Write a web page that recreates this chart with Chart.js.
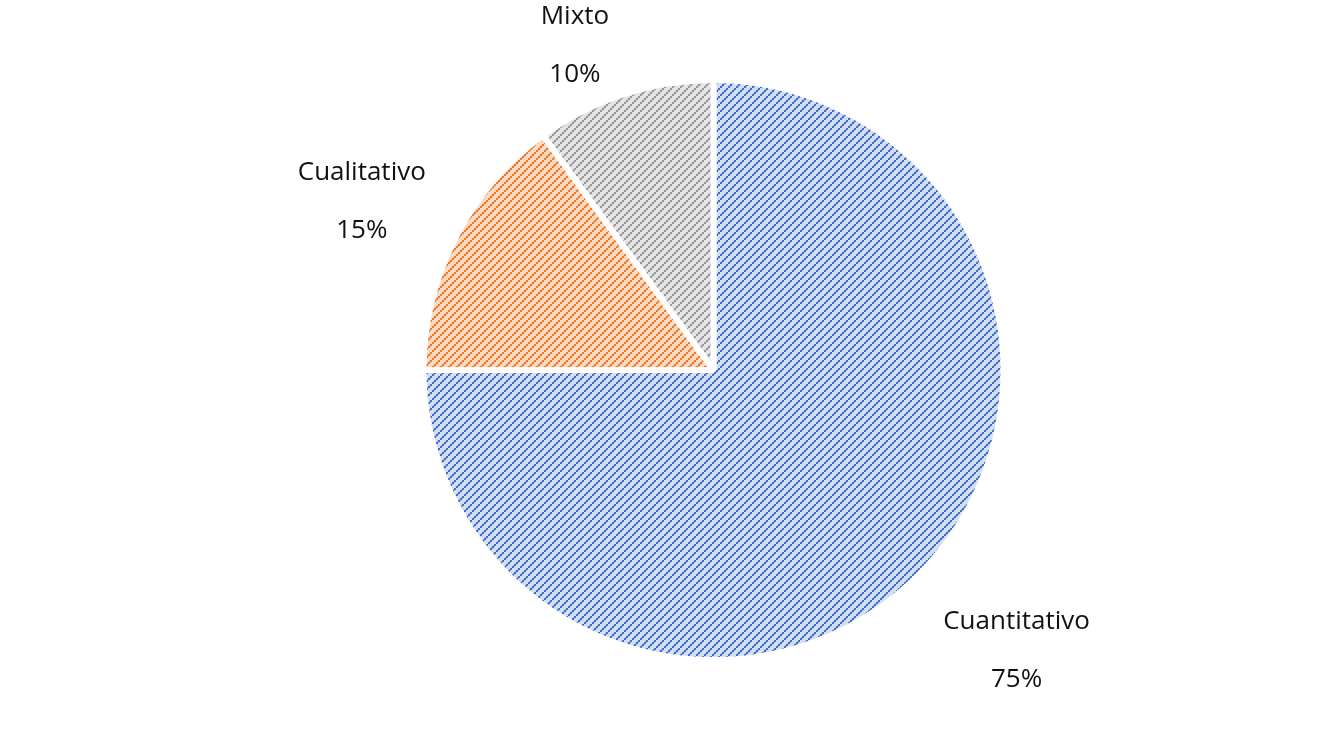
<!DOCTYPE html>
<html>
<head>
<meta charset="utf-8">
<script src="https://cdn.jsdelivr.net/npm/chart.js@4"></script>
<style>
  html, body { margin: 0; padding: 0; background: #fff; }
  #wrap { width: 1335px; height: 738px; position: relative; }
</style>
</head>
<body>
<div id="wrap"><canvas id="chart1"></canvas></div>
<script>
var categories = ['Cuantitativo', 'Cualitativo', 'Mixto'];
var values = [75, 15, 10];
var percentLabels = ['75%', '15%', '10%'];

// hatch colours: [background, mid, dots]
var hatchColors = [
  ['#d4def2', '#94aee0', '#3f6fc6'],
  ['#fbdac4', '#f4ac7c', '#ee7a2c'],
  ['#e4e4e4', '#c2c2c2', '#999999']
];

function makeHatch(bg, mid, fg) {
  var size = 8;
  var c = document.createElement('canvas');
  c.width = size; c.height = size;
  var g = c.getContext('2d');
  g.fillStyle = bg;
  g.fillRect(0, 0, size, size);
  // dotted diagonal, bottom-left to top-right
  for (var k = 0; k < 4; k++) {
    var x = k * 2, y = size - 2 - k * 2;
    g.fillStyle = mid;
    g.fillRect(x + 1, y - 1, 2, 2);
    g.fillStyle = fg;
    g.fillRect(x, y, 2, 2);
  }
  return g.createPattern(c, 'repeat');
}

var patterns = hatchColors.map(function(hc) { return makeHatch(hc[0], hc[1], hc[2]); });

// outside labels, two lines (name + percent)
var outsideLabels = {
  id: 'outsideLabels',
  afterDatasetsDraw: function(chart) {
    var ctx = chart.ctx;
    var meta = chart.getDatasetMeta(0);
    ctx.save();
    ctx.font = '26px "Open Sans", "Noto Sans", sans-serif';
    ctx.fillStyle = '#111';
    ctx.textAlign = 'center';
    ctx.textBaseline = 'middle';
    meta.data.forEach(function(arc, i) {
      var p = arc.getProps(['x', 'y', 'startAngle', 'endAngle', 'outerRadius'], true);
      var mid = (p.startAngle + p.endAngle) / 2;
      var dx = Math.cos(mid), dy = Math.sin(mid);
      var r = p.outerRadius + 25;
      var ax = p.x + dx * r, ay = p.y + dy * r;
      var w = Math.max(ctx.measureText(categories[i]).width, ctx.measureText(percentLabels[i]).width);
      var hw = w / 2 + 7;
      var cx = ax + (dx < 0 ? -hw : hw);
      var cy = ay + (dy < 0 ? -25 : 58);
      ctx.fillText(categories[i], cx, cy - 29);
      ctx.fillText(percentLabels[i], cx, cy + 29);
    });
    ctx.restore();
  }
};

var ctx = document.getElementById('chart1').getContext('2d');
var myChart = new Chart(ctx, {
  type: 'pie',
  data: {
    labels: categories,
    datasets: [{
      data: values,
      backgroundColor: patterns,
      borderColor: '#ffffff',
      borderWidth: 6
    }]
  },
  options: {
    responsive: true,
    maintainAspectRatio: false,
    animation: false,
    layout: {
      padding: { top: 77, bottom: 75, left: 92, right: 0 }
    },
    plugins: {
      legend: { display: false },
      tooltip: { enabled: false }
    }
  },
  plugins: [outsideLabels]
});
</script>
</body>
</html>
